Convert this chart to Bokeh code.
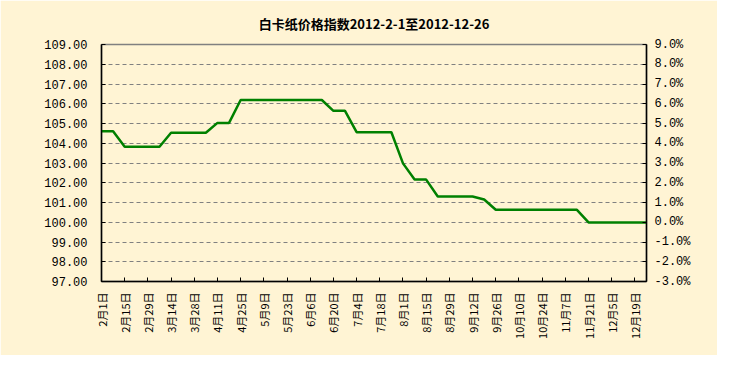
import math
from datetime import date
from bokeh.plotting import figure
from bokeh.models import Range1d, LinearAxis, FixedTicker, PrintfTickFormatter
from bokeh.embed import file_html
from bokeh.resources import INLINE

title_text = "白卡纸价格指数2012-2-1至2012-12-26"

dates = [
    "2012-02-01", "2012-02-08", "2012-02-15", "2012-02-22", "2012-02-29", "2012-03-07",
    "2012-03-14", "2012-03-21", "2012-03-28", "2012-04-04", "2012-04-11", "2012-04-18",
    "2012-04-25", "2012-05-02", "2012-05-09", "2012-05-16", "2012-05-23", "2012-05-30",
    "2012-06-06", "2012-06-13", "2012-06-20", "2012-06-27", "2012-07-04", "2012-07-11",
    "2012-07-18", "2012-07-25", "2012-08-01", "2012-08-08", "2012-08-15", "2012-08-22",
    "2012-08-29", "2012-09-05", "2012-09-12", "2012-09-19", "2012-09-26", "2012-10-03",
    "2012-10-10", "2012-10-17", "2012-10-24", "2012-10-31", "2012-11-07", "2012-11-14",
    "2012-11-21", "2012-11-28", "2012-12-05", "2012-12-12", "2012-12-19", "2012-12-26",
]
index_values = [
    104.61, 104.61, 103.82, 103.82, 103.82, 103.82,
    104.53, 104.53, 104.53, 104.53, 105.03, 105.03,
    106.19, 106.19, 106.19, 106.19, 106.19, 106.19,
    106.19, 106.19, 105.64, 105.64, 104.56, 104.56,
    104.56, 104.56, 102.98, 102.16, 102.16, 101.30,
    101.30, 101.30, 101.30, 101.15, 100.63, 100.63,
    100.63, 100.63, 100.63, 100.63, 100.63, 100.63,
    99.99, 99.99, 99.99, 99.99, 99.99, 99.99,
]
tick_dates = [
    "2012-02-01", "2012-02-15", "2012-02-29", "2012-03-14", "2012-03-28", "2012-04-11",
    "2012-04-25", "2012-05-09", "2012-05-23", "2012-06-06", "2012-06-20", "2012-07-04",
    "2012-07-18", "2012-08-01", "2012-08-15", "2012-08-29", "2012-09-12", "2012-09-26",
    "2012-10-10", "2012-10-24", "2012-11-07", "2012-11-21", "2012-12-05", "2012-12-19",
]
tick_labels = [
    "2月1日", "2月15日", "2月29日", "3月14日", "3月28日", "4月11日",
    "4月25日", "5月9日", "5月23日", "6月6日", "6月20日", "7月4日",
    "7月18日", "8月1日", "8月15日", "8月29日", "9月12日", "9月26日",
    "10月10日", "10月24日", "11月7日", "11月21日", "12月5日", "12月19日",
]
left_ticks = [97, 98, 99, 100, 101, 102, 103, 104, 105, 106, 107, 108, 109]
right_ticks = [-3, -2, -1, 0, 1, 2, 3, 4, 5, 6, 7, 8, 9]

start = date.fromisoformat(dates[0])
end = date.fromisoformat(dates[-1])
def day_of(s):
    return (date.fromisoformat(s) - start).days

xs = [day_of(d) for d in dates]
tick_x = [day_of(d) for d in tick_dates]
x_end = (end - start).days

BG = "#FFF4D4"
NUMFONT = "Liberation Mono"
CJK = "Noto Sans CJK SC"

p = figure(width=717, height=355, output_backend="svg", toolbar_location=None,
           x_range=Range1d(0, x_end), y_range=Range1d(97, 109),
           min_border_left=101, min_border_right=71, min_border_top=43, min_border_bottom=74,
           background_fill_color=BG, border_fill_color=BG)
p.extra_y_ranges = {"pct": Range1d(-3, 9)}

p.title.text = title_text
p.title.align = "center"
p.title.text_font = CJK
p.title.text_font_size = "13px"
p.title.text_font_style = "bold"
p.title.text_color = "#000000"
p.title.text_line_height = 0.6
p.title.standoff = 23

p.outline_line_color = "#808080"
p.outline_line_width = 1.5

p.line(xs, index_values, line_color="#008000", line_width=2.5)

# x axis
xa = p.xaxis[0]
xa.ticker = FixedTicker(ticks=tick_x)
xa.major_label_overrides = {tx: lab for tx, lab in zip(tick_x, tick_labels)}
xa.major_label_orientation = math.pi / 2
xa.major_label_text_font = CJK
xa.major_label_text_font_size = "11px"
xa.major_label_text_color = "#000000"
xa.major_label_standoff = 11
xa.major_tick_in = 4
xa.major_tick_out = 0
xa.minor_tick_line_color = None
xa.axis_line_width = 1.5
xa.axis_line_color = "#000000"
xa.major_tick_line_color = "#000000"

# left y axis
ya = p.yaxis[0]
ya.ticker = FixedTicker(ticks=left_ticks)
ya.formatter = PrintfTickFormatter(format="%.2f")
ya.major_label_text_font = NUMFONT
ya.major_label_text_font_size = "12px"
ya.major_label_text_color = "#000000"
ya.major_label_standoff = 14
ya.major_tick_in = 4
ya.major_tick_out = 0
ya.minor_tick_line_color = None
ya.axis_line_width = 1.5
ya.axis_line_color = "#000000"
ya.major_tick_line_color = "#000000"

# right y axis
ra = LinearAxis(y_range_name="pct", ticker=FixedTicker(ticks=right_ticks),
                formatter=PrintfTickFormatter(format="%.1f%%"))
ra.major_label_text_font = NUMFONT
ra.major_label_text_font_size = "12px"
ra.major_label_text_color = "#000000"
ra.major_label_standoff = 8
ra.major_tick_in = 4
ra.major_tick_out = 0
ra.minor_tick_line_color = None
ra.axis_line_width = 1.5
ra.axis_line_color = "#000000"
ra.major_tick_line_color = "#000000"
p.add_layout(ra, "right")

p.xgrid.grid_line_color = None
p.ygrid.grid_line_color = "#808080"
p.ygrid.grid_line_dash = "4 3"
p.ygrid.grid_line_width = 1

open("out.html", "w").write(file_html(p, INLINE))
